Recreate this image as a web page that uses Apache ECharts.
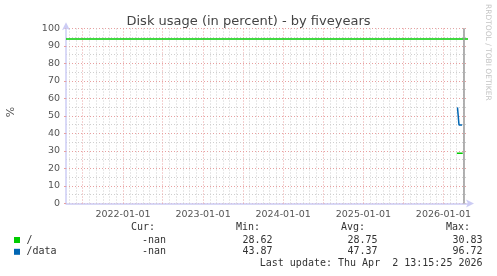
<!DOCTYPE html>
<html><head><meta charset="utf-8">
<script src="https://cdn.jsdelivr.net/npm/echarts@6/dist/echarts.min.js"></script>
<style>html,body{margin:0;padding:0;background:#fff}#c{width:497px;height:276px}</style>
</head><body><div id="c"></div>
<script>
// ---- data ----
const seriesNames = ['/', '/data'];
const seriesColors = ['#00cc00', '#0066b3'];
const rootDates = ['2026-03-03', '2026-03-30'];
const rootValues = [28.7, 28.7];
const dataDates = ['2026-03-06', '2026-03-13', '2026-03-27'];
const dataValues = [54.9, 44.8, 44.8];
const hruleValue = 94.3;
const nowDate = '2026-04-02';
const xMin = '2021-04-16';
const xMax = '2026-04-23';
const yearLabels = ['2022-01-01', '2023-01-01', '2024-01-01', '2025-01-01', '2026-01-01'];
const yMin = 0, yMax = 100, yStep = 10;
const statHeaders = ['Cur:', 'Min:', 'Avg:', 'Max:'];
const statCur = ['-nan', '-nan'];
const statMin = ['28.62', '43.87'];
const statAvg = ['28.75', '47.37'];
const statMax = ['30.83', '96.72'];
const lastUpdate = 'Last update: Thu Apr  2 13:15:25 2026';
const titleText = 'Disk usage (in percent) - by fiveyears';

// ---- helpers ----
function d(s) { const p = s.split('-').map(Number); return new Date(p[0], p[1] - 1, p[2]).getTime(); }

const gridLines = [];
{
  const a = new Date(d(xMin)), b = d(xMax);
  let y = a.getFullYear(), m = a.getMonth() + 1;
  while (true) {
    const t = new Date(y, m, 1).getTime();
    if (t > b) break;
    const major = (m % 6 === 0);
    gridLines.push({
      xAxis: t,
      lineStyle: { color: major ? '#e8a0a0' : '#cfcfcf', type: [1, 2], width: 1 }
    });
    m++; if (m > 11) { m = 0; y++; }
  }
}

const chart = echarts.init(document.getElementById('c'), null, { renderer: 'canvas' });
const mono = '10px "DejaVu Sans Mono", monospace';
const textCol = '#333';
const graphics = [];
function T(text, x, y, align, font, fill, rot) {
  graphics.push({ type: 'text', x: x, y: y, rotation: rot || 0, silent: true,
    style: { text: text, font: font || mono, fill: fill || textCol, align: align || 'left', verticalAlign: 'middle' } });
}
const colX = [155, 260, 365, 470];
statHeaders.forEach((h, i) => T(h, colX[i], 227.5, 'right'));
const rows = [statCur, statMin, statAvg, statMax];
const rightX = [166, 272.5, 377.5, 482.5];
[0, 1].forEach(r => {
  const y = 240 + r * 11.8;
  graphics.push({ type: 'rect', shape: { x: 14, y: y - 3, width: 6, height: 6 }, style: { fill: seriesColors[r] }, silent: true });
  T(seriesNames[r], 26.5, y, 'left');
  rows.forEach((arr, i) => T(arr[r], rightX[i], y, 'right'));
});
T(lastUpdate, 482.5, 263.5, 'right');
T('%', 11, 112, 'center', '11px "DejaVu Sans", sans-serif', '#555', Math.PI / 2);
T('RRDTOOL / TOBI OETIKER', 488, 4, 'left', '7.5px "DejaVu Sans", sans-serif', '#c4c4c4', -Math.PI / 2);

chart.setOption({
  animation: false,
  title: { text: titleText, left: 'center', top: 10,
    textStyle: { fontFamily: 'DejaVu Sans', fontSize: 13, fontWeight: 'normal', color: '#444' } },
  grid: { left: 66, right: 29, top: 28.3, bottom: 72.5, containLabel: false },
  xAxis: {
    type: 'time', min: d(xMin), max: d(xMax),
    axisLine: { show: true, lineStyle: { color: '#ccccf4', width: 1.5 }, symbol: ['none', 'arrow'], symbolSize: [6, 8], symbolOffset: [0, 6] },
    axisTick: { show: false },
    splitLine: { show: false },
    minorTick: { show: false },
    axisLabel: {
      customValues: yearLabels.map(d),
      formatter: '{yyyy}-{MM}-{dd}',
      fontFamily: 'DejaVu Sans', fontSize: 9.5, color: '#555', margin: 6,
      showMinLabel: true, showMaxLabel: true, hideOverlap: false
    }
  },
  yAxis: {
    type: 'value', min: yMin, max: yMax, interval: yStep,
    axisLine: { show: true, lineStyle: { color: '#ccccf4', width: 1.5 }, symbol: ['none', 'arrow'], symbolSize: [6, 8], symbolOffset: [0, 6] },
    axisTick: { show: true, length: 2, lineStyle: { color: '#e8a0a0' } },
    axisLabel: { fontFamily: 'DejaVu Sans', fontSize: 9.5, color: '#555', margin: 6 },
    splitLine: { show: true, lineStyle: { color: '#e8a0a0', type: [1, 2] } },
    minorTick: { show: false, splitNumber: 2 },
    minorSplitLine: { show: true, lineStyle: { color: '#cfcfcf', type: [1, 2] } }
  },
  series: [
    { type: 'line', name: 'grid', data: [], z: 1, silent: true,
      markLine: { silent: true, symbol: 'none', label: { show: false }, animation: false, data: gridLines } },
    { type: 'line', name: 'rules', data: [], z: 2, silent: true,
      markLine: { silent: true, symbol: 'none', label: { show: false }, animation: false,
        data: [
          { yAxis: hruleValue, lineStyle: { color: '#00cc00', width: 1.5, type: 'solid' } },
          { xAxis: d(nowDate), lineStyle: { color: '#999', width: 1.5, type: 'solid' } }
        ] } },
    { type: 'line', name: seriesNames[0], z: 3, showSymbol: false, symbol: 'none',
      lineStyle: { color: seriesColors[0], width: 1.5 },
      data: rootDates.map((s, i) => [d(s), rootValues[i]]) },
    { type: 'line', name: seriesNames[1], z: 3, showSymbol: false, symbol: 'none',
      lineStyle: { color: seriesColors[1], width: 1.5 },
      data: dataDates.map((s, i) => [d(s), dataValues[i]]) }
  ],
  graphic: graphics
});
</script></body></html>
